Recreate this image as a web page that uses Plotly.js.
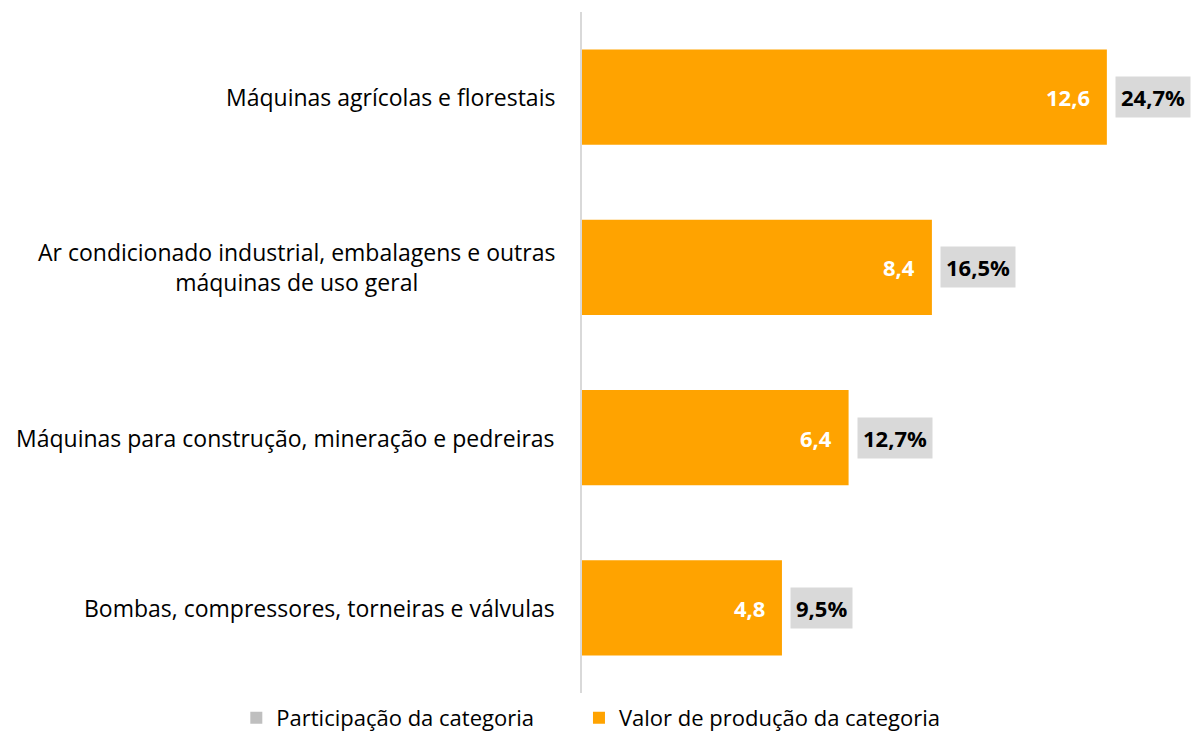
<!DOCTYPE html>
<html>
<head>
<meta charset="utf-8">
<script src="https://cdn.plot.ly/plotly-3.0.1.min.js"></script>
<style>html,body{margin:0;padding:0;background:#fff;}#chart{width:1196px;height:739px;}</style>
</head>
<body>
<div id="chart"></div>
<script>
const categories = [
  "Máquinas agrícolas e florestais",
  "Ar condicionado industrial, embalagens e outras<br>máquinas de uso geral",
  "Máquinas para construção, mineração e pedreiras",
  "Bombas, compressores, torneiras e válvulas"
];
const productionValues = [12.6, 8.4, 6.4, 4.8];
const productionLabels = ["12,6", "8,4", "6,4", "4,8"];
const shareLabels = ["24,7%", "16,5%", "12,7%", "9,5%"];
const legendNames = ["Participação da categoria", "Valor de produção da categoria"];

const FONT = "'Open Sans', sans-serif";
const NBSP = "\u00a0";

const traces = [
  {
    type: "bar", orientation: "h", name: legendNames[0] + NBSP.repeat(7),
    y: categories, x: categories.map(() => 0),
    marker: {color: "#BFBFBF"}, hoverinfo: "skip"
  },
  {
    type: "bar", orientation: "h", name: legendNames[1],
    y: categories, x: productionValues,
    marker: {color: "#FFA300"}
  }
];

const annotations = [];
categories.forEach((c, i) => {
  annotations.push({
    xref: "paper", yref: "y", x: 0, y: c, xanchor: "right", xshift: -25,
    text: c, showarrow: false, align: "center",
    font: {size: 23, color: "#000", family: FONT}
  });
  annotations.push({
    xref: "x", yref: "y", x: productionValues[i], y: c, xanchor: "right", xshift: -15,
    text: "<b>" + productionLabels[i] + "</b>", showarrow: false,
    font: {size: 22, color: "#FFFFFF", family: FONT}
  });
  annotations.push({
    xref: "x", yref: "y", x: productionValues[i], y: c, xanchor: "left", xshift: 8,
    text: "<b>" + shareLabels[i] + "</b>", showarrow: false,
    bgcolor: "#D9D9D9", borderpad: 5,
    font: {size: 22, color: "#000", family: FONT}
  });
});

const layout = {
  width: 1196, height: 739,
  margin: {l: 582, r: 0, t: 12, b: 45},
  paper_bgcolor: "#fff", plot_bgcolor: "#fff",
  barmode: "overlay", bargap: 0.44,
  font: {family: FONT, size: 22, color: "#000"},
  xaxis: {range: [0, 14.74], showgrid: false, zeroline: false, showticklabels: false, showline: false, fixedrange: true},
  yaxis: {autorange: "reversed", showticklabels: false, showgrid: false, zeroline: false,
          showline: true, linecolor: "#D9D9D9", linewidth: 2, ticks: ""},
  showlegend: true,
  legend: {orientation: "h", x: -0.563, xanchor: "left", y: -0.006, yanchor: "top",
           font: {size: 22, family: FONT}, traceorder: "normal", itemwidth: 30},
  annotations: annotations
};

Plotly.newPlot("chart", traces, layout, {displayModeBar: false, staticPlot: true});
</script>
</body>
</html>
